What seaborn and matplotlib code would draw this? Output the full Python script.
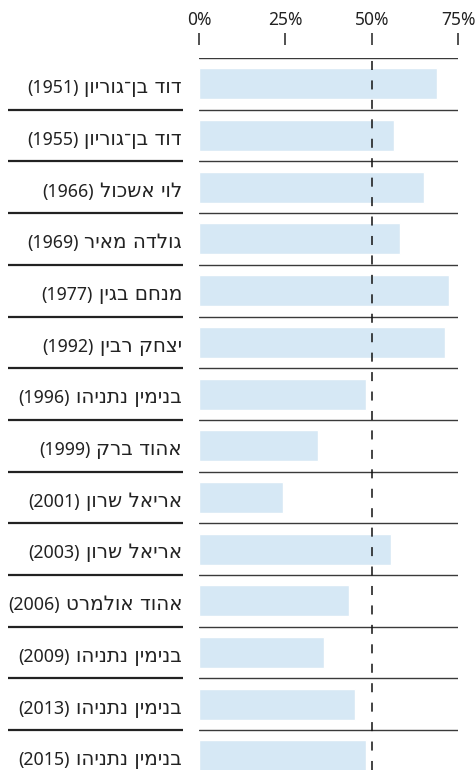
import numpy as np
import pandas as pd
import matplotlib
matplotlib.use("Agg")
import matplotlib.pyplot as plt
import matplotlib.transforms as mtransforms
import seaborn as sns

# data (percent)
names = ["דוד בן־גוריון", "דוד בן־גוריון", "לוי אשכול", "גולדה מאיר", "מנחם בגין",
         "יצחק רבין", "בנימין נתניהו", "אהוד ברק", "אריאל שרון", "אריאל שרון",
         "אהוד אולמרט", "בנימין נתניהו", "בנימין נתניהו", "בנימין נתניהו"]
years = [1951, 1955, 1966, 1969, 1977, 1992, 1996, 1999, 2001, 2003, 2006, 2009, 2013, 2015]
values = [68.8, 56.4, 65.1, 58.1, 72.3, 71.2, 48.2, 34.4, 24.3, 55.5, 43.4, 36.2, 45.1, 48.2]
xticks = [0, 25, 50, 75]

labels = [f"{n} ({y})" for n, y in zip(names, years)]
df = pd.DataFrame({"label": labels, "value": values})

sns.set_style("white")
plt.rcParams["font.family"] = ["Noto Sans", "DejaVu Sans"]
plt.rcParams["lines.scale_dashes"] = False

W, H = 476, 770
fig = plt.figure(figsize=(W / 100, H / 100), dpi=100)
x0, x1, ytop = 199, 458.3, 58
ax = fig.add_axes([x0 / W, 0, (x1 - x0) / W, (H - ytop) / H])

sns.barplot(data=df, x="value", y="label", orient="h", color="#d6e8f5",
            width=0.6, errorbar=None, saturation=1, ax=ax)

n = len(values)
row_px = 51.7
ax.set_xlim(0, 75)
ax.set_ylim(-0.5 + (H - ytop) / row_px, -0.5)

# row separators
for b in np.arange(-0.5, n - 0.5, 1.0):
    ax.axhline(b, color="#3a3a3a", lw=1.0, zorder=1)
trans = mtransforms.blended_transform_factory(ax.transAxes, ax.transData)
lx0, lx1 = (8 - x0) / (x1 - x0), (183 - x0) / (x1 - x0)
for b in np.arange(0.5, n - 0.5, 1.0):
    ax.plot([lx0, lx1], [b, b], color="#222222", lw=1.6, transform=trans,
            clip_on=False, solid_capstyle="butt")

ax.axvline(50, color="#111111", lw=1.1, dashes=(6.5, 7.5), zorder=3)

for s in ["left", "right", "bottom"]:
    ax.spines[s].set_visible(False)
ax.spines["top"].set_color("none")
ax.spines["top"].set_position(("outward", 9.4))

ax.xaxis.tick_top()
ax.set_xticks(xticks)
ax.set_xticklabels([f"{t}%" for t in xticks])
ax.tick_params(axis="x", top=True, bottom=False, length=8.6, width=1.1,
               color="#222222", pad=3.2, labelsize=12.5, labelcolor="#222222")
ax.tick_params(axis="y", left=False, labelleft=False)
ax.set_xlabel("")
ax.set_ylabel("")

# row labels: hebrew name (visual order, no bidi in matplotlib) + year to its left
tx = (182 - x0) / (x1 - x0)
name_texts = []
for i, nm in enumerate(names):
    t = ax.text(tx, i + 0.18, nm[::-1], transform=trans, ha="right", va="baseline",
                fontsize=14.3, family=["DejaVu Sans"], color="#222222")
    name_texts.append(t)
fig.canvas.draw()
r = fig.canvas.get_renderer()
for i, (t, y) in enumerate(zip(name_texts, years)):
    bb = t.get_window_extent(r)
    xa = ax.transAxes.inverted().transform((bb.x0 - 6, 0))[0]
    ax.text(xa, i + 0.18, f"({y})", transform=trans, ha="right", va="baseline",
            fontsize=12.8, color="#222222")

fig.savefig("out.png", dpi=100)
